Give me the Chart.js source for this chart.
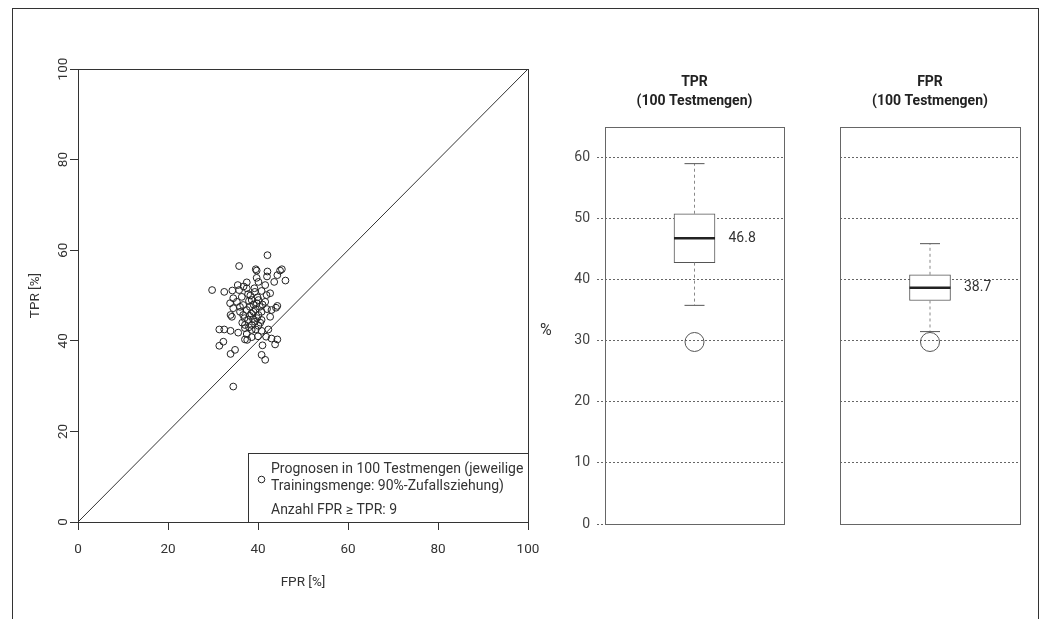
<!DOCTYPE html>
<html>
<head>
<meta charset="utf-8">
<script src="https://cdn.jsdelivr.net/npm/chart.js@4.4.1/dist/chart.umd.min.js"></script>
<style>
  body { margin: 0; background: #fff; width: 1043px; height: 619px; overflow: hidden; position: relative; }
  #rahmen { position: absolute; left: 12px; top: 8px; width: 1027px; height: 700px; border: 1.5px solid #333; box-sizing: border-box; }
  canvas { position: absolute; top: 0; }
</style>
</head>
<body>
<div id="rahmen"></div>
<canvas id="streu" style="left:0px" width="560" height="619"></canvas>
<canvas id="boxTPR" style="left:540px" width="260" height="619"></canvas>
<canvas id="boxFPR" style="left:800px" width="243" height="619"></canvas>
<script>
// Streudiagramm: FPR (x) und TPR (y) je Testmenge, in %
const fpr = [42.1, 35.8, 39.5, 39.7, 42.1, 44.9, 45.3, 46.1, 44.3, 42.0,
             39.7, 40.1, 37.5, 35.5, 43.6, 41.6, 29.8, 32.5, 34.3, 35.8,
             37.5, 39.2, 42.7, 41.9, 37.8, 36.4, 34.5, 39.3, 40.1, 38.6,
             41.6, 33.8, 35.3, 36.7, 38.2, 39.7, 40.4, 44.3, 44.0, 43.0,
             34.5, 36.0, 37.5, 39.0, 40.8, 33.9, 34.2, 36.7, 38.2, 40.1,
             42.7, 37.8, 39.3, 40.8, 37.1, 38.6, 40.1, 31.4, 32.5, 33.9,
             35.6, 37.1, 38.6, 40.8, 42.3, 41.8, 43.0, 44.3, 37.1, 37.6,
             38.6, 32.3, 31.4, 41.0, 43.8, 34.9, 33.9, 40.8, 41.6, 34.5,
             38.0, 39.0, 39.5, 38.5, 37.0, 39.8, 38.9, 40.5, 36.5, 38.0,
             39.5, 37.5, 40.0, 36.0, 41.0, 42.0, 38.3, 40.8, 36.8, 39.9];
const tpr = [58.9, 56.5, 55.8, 55.5, 55.3, 55.5, 55.8, 53.3, 54.5, 54.2,
             53.9, 53.0, 52.9, 52.3, 53.0, 52.3, 51.2, 50.8, 51.1, 51.2,
             51.6, 51.6, 50.5, 50.1, 50.3, 49.7, 49.4, 50.8, 49.0, 49.0,
             48.6, 48.3, 48.6, 47.9, 47.5, 48.3, 47.5, 47.7, 47.3, 46.8,
             47.2, 46.4, 46.8, 46.4, 46.4, 45.7, 45.3, 45.7, 45.5, 45.7,
             45.3, 44.6, 44.2, 44.6, 43.5, 43.5, 43.3, 42.5, 42.5, 42.2,
             41.8, 42.8, 42.4, 42.2, 42.5, 40.9, 40.5, 40.3, 40.3, 40.2,
             40.8, 39.8, 38.9, 39.0, 39.2, 38.0, 37.1, 36.9, 35.8, 29.9,
             48.8, 48.0, 47.0, 46.0, 45.0, 45.0, 44.8, 44.0, 44.0, 43.0,
             42.5, 41.5, 41.0, 47.5, 48.0, 47.0, 50.0, 51.0, 52.0, 49.6];
const achseMin = 0;
const achseMax = 100;
const achseSchritt = 20;

const legendeZeilen = ['Prognosen in 100 Testmengen (jeweilige', 'Trainingsmenge: 90%-Zufallsziehung)', 'Anzahl FPR \u2265 TPR: 9'];

// Boxplots: Kennwerte je Kennzahl
const boxNamen = ['TPR', 'FPR'];
const boxUntertitel = '(100 Testmengen)';
const boxMin = [35.8, 31.5];
const boxQ1 = [42.8, 36.6];
const boxMedian = [46.8, 38.7];
const boxQ3 = [50.8, 40.8];
const boxMax = [59.0, 45.9];
const boxAusreisser = [[29.8], [29.8]];
const boxYMax = 65;
const boxSchritt = 10;

const schrift = 'Roboto, "Open Sans", sans-serif';
const textFarbe = '#333';

// --- Streudiagramm ---
const streuPlugin = {
  id: 'streuPlugin',
  afterDatasetsDraw(chart) {
    const ctx = chart.ctx;
    const a = chart.chartArea;
    const ys = chart.scales.y;
    ctx.save();
    ctx.strokeStyle = '#333';
    ctx.lineWidth = 1;
    ctx.strokeRect(a.left + 0.5, a.top + 0.5, a.right - a.left, a.bottom - a.top);

    // y-Beschriftung gedreht (wie in R)
    ctx.fillStyle = textFarbe;
    ctx.font = '13.5px ' + schrift;
    ctx.textAlign = 'center';
    ctx.textBaseline = 'middle';
    ys.ticks.forEach(t => {
      ctx.save();
      ctx.translate(a.left - 14, ys.getPixelForValue(t.value));
      ctx.rotate(-Math.PI / 2);
      ctx.fillText(String(t.value), 0, 0);
      ctx.restore();
    });
    ctx.save();
    ctx.translate(a.left - 42, (a.top + a.bottom) / 2);
    ctx.rotate(-Math.PI / 2);
    ctx.fillText('TPR [%]', 0, 0);
    ctx.restore();
    ctx.fillText('FPR [%]', (a.left + a.right) / 2, a.bottom + 61);

    // Legende
    const lx = a.left + 170, ly = a.bottom - 69;
    ctx.fillStyle = '#fff';
    ctx.fillRect(lx, ly, a.right - lx, a.bottom - ly);
    ctx.strokeRect(lx + 0.5, ly + 0.5, a.right - lx, a.bottom - ly);
    ctx.beginPath();
    ctx.arc(lx + 13.5, ly + 26.5, 3.3, 0, Math.PI * 2);
    ctx.strokeStyle = '#222';
    ctx.stroke();
    ctx.fillStyle = textFarbe;
    ctx.textAlign = 'left';
    ctx.font = '14px ' + schrift;
    ctx.fillText(legendeZeilen[0], lx + 23, ly + 16);
    ctx.fillText(legendeZeilen[1], lx + 23, ly + 33);
    ctx.fillText(legendeZeilen[2], lx + 23, ly + 57);
    ctx.restore();
  }
};

new Chart(document.getElementById('streu'), {
  type: 'scatter',
  data: {
    datasets: [{
      data: fpr.map((x, i) => ({ x: x, y: tpr[i] })),
      pointRadius: 3.4,
      pointBorderColor: '#222',
      pointBackgroundColor: 'rgba(0,0,0,0)',
      pointBorderWidth: 1
    }, {
      type: 'line',
      data: [{ x: achseMin, y: achseMin }, { x: achseMax, y: achseMax }],
      borderColor: '#333',
      borderWidth: 1,
      pointRadius: 0
    }]
  },
  options: {
    responsive: false,
    animation: false,
    layout: { autoPadding: false, padding: { top: 69, right: 32, left: 0, bottom: 0 } },
    plugins: { legend: { display: false }, tooltip: { enabled: false } },
    scales: {
      x: {
        min: achseMin, max: achseMax,
        ticks: { stepSize: achseSchritt, color: textFarbe, font: { family: schrift, size: 13.5 }, padding: 12, maxRotation: 0 },
        grid: { drawOnChartArea: false, drawTicks: true, tickLength: 8, color: '#333' },
        border: { display: false },
        afterFit(s) { s.height = 97; }
      },
      y: {
        min: achseMin, max: achseMax,
        ticks: { stepSize: achseSchritt, display: false },
        grid: { drawOnChartArea: false, drawTicks: true, tickLength: 8, color: '#333' },
        border: { display: false },
        afterFit(s) { s.width = 78; }
      }
    }
  },
  plugins: [streuPlugin]
});

// --- Boxplots ---
function boxChart(id, i, yBreite, rechts, mitAchse) {
  const mitte = 1;
  const boxPlugin = {
    id: 'boxPlugin' + i,
    afterDatasetsDraw(chart) {
      const ctx = chart.ctx;
      const a = chart.chartArea;
      const ys = chart.scales.y;
      const xs = chart.scales.x;
      ctx.save();
      ctx.strokeStyle = '#666';
      ctx.lineWidth = 1;
      ctx.strokeRect(a.left + 0.5, a.top + 0.5, a.right - a.left, a.bottom - a.top);
      ctx.fillStyle = '#222';
      ctx.textAlign = 'center';
      ctx.textBaseline = 'middle';
      ctx.font = 'bold 14px ' + schrift;
      const cx = (a.left + a.right) / 2;
      ctx.fillText(boxNamen[i], cx, a.top - 45);
      ctx.fillText(boxUntertitel, cx, a.top - 26);
      ctx.font = '14px ' + schrift;
      ctx.fillStyle = textFarbe;
      ctx.textAlign = 'left';
      ctx.fillText(boxMedian[i].toFixed(1), xs.getPixelForValue(mitte) + 34, ys.getPixelForValue(boxMedian[i]));
      if (mitAchse) {
        ctx.font = '16px ' + schrift;
        ctx.fillText('%', 0, ys.getPixelForValue(30) - 10);
      }
      ctx.restore();
    }
  };
  return new Chart(document.getElementById(id), {
    type: 'bar',
    data: {
      datasets: [{
        type: 'scatter',
        order: 0,
        data: [{ x: mitte, y: boxMedian[i] }],
        pointStyle: 'line',
        pointRadius: 20.5,
        pointBorderWidth: 2.5,
        pointBorderColor: '#222'
      }, {
        type: 'scatter',
        order: 1,
        data: [{ x: mitte, y: boxMin[i] }, { x: mitte, y: boxMax[i] }],
        pointStyle: 'line',
        pointRadius: 10,
        pointBorderWidth: 1,
        pointBorderColor: '#555'
      }, {
        type: 'scatter',
        order: 2,
        data: boxAusreisser[i].map(v => ({ x: mitte, y: v })),
        pointStyle: 'circle',
        pointRadius: 9.5,
        pointBorderWidth: 1,
        pointBorderColor: '#555',
        pointBackgroundColor: 'rgba(0,0,0,0)'
      }, {
        type: 'line',
        order: 3,
        data: [{ x: mitte, y: boxQ3[i] }, { x: mitte, y: boxMax[i] }],
        borderColor: '#888',
        borderWidth: 1,
        borderDash: [3, 3],
        pointRadius: 0
      }, {
        type: 'line',
        order: 3,
        data: [{ x: mitte, y: boxQ1[i] }, { x: mitte, y: boxMin[i] }],
        borderColor: '#888',
        borderWidth: 1,
        borderDash: [3, 3],
        pointRadius: 0
      }, {
        type: 'bar',
        order: 4,
        data: [{ x: mitte, y: [boxQ1[i], boxQ3[i]] }],
        barThickness: 41,
        backgroundColor: '#fff',
        borderColor: '#555',
        borderWidth: 1,
        borderSkipped: false
      }]
    },
    options: {
      responsive: false,
      animation: false,
      layout: { autoPadding: false, padding: { top: 127, right: rechts, left: 0, bottom: 95 } },
      plugins: { legend: { display: false }, tooltip: { enabled: false } },
      scales: {
        x: { type: 'linear', min: 0, max: 2, display: false },
        y: {
          min: 0, max: boxYMax,
          ticks: {
            display: mitAchse, stepSize: boxSchritt, includeBounds: false,
            color: '#444', font: { family: schrift, size: 14 }, padding: 7
          },
          grid: {
            drawTicks: mitAchse, tickLength: 8, color: '#666',
            tickBorderDash: [2, 2],
            tickColor: '#666'
          },
          border: { display: false, dash: [2, 2] },
          afterFit(s) { s.width = yBreite; }
        }
      }
    },
    plugins: [boxPlugin]
  });
}

boxChart('boxTPR', 0, 65, 16, true);
boxChart('boxFPR', 1, 40, 23, false);
</script>
</body>
</html>
